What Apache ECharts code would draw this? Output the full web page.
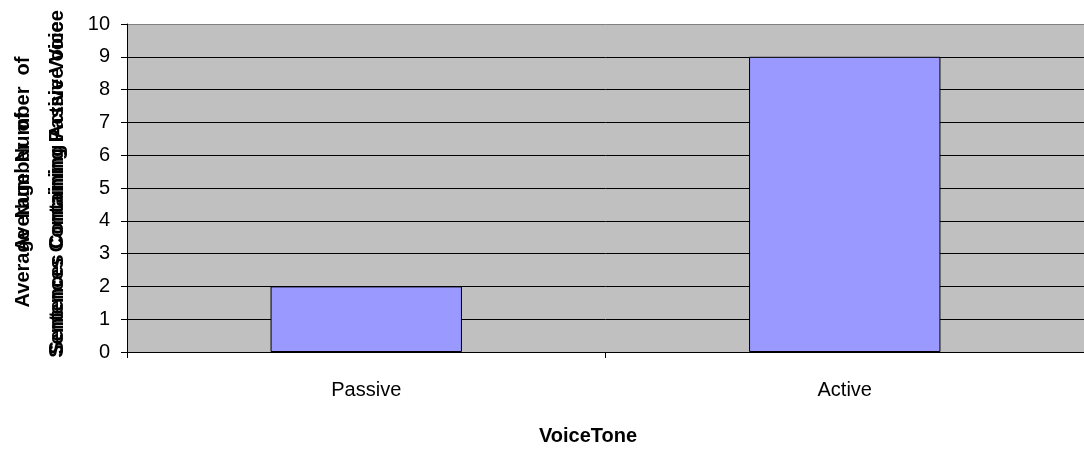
<!DOCTYPE html>
<html>
<head>
<meta charset="utf-8">
<style>
  html, body { margin: 0; padding: 0; background: #fff; }
  #chart { width: 1084px; height: 453px; }
</style>
<script src="https://cdn.jsdelivr.net/npm/echarts@6/dist/echarts.min.js"></script>
</head>
<body>
<div id="chart"></div>
<script>
// data
const categories = ['Passive', 'Active'];
const sentenceCounts = [2, 9];
const yTicks = [0, 1, 2, 3, 4, 5, 6, 7, 8, 9, 10];

const FONT = '"Liberation Sans", Arial, sans-serif';

const chart = echarts.init(document.getElementById('chart'));

// gridline colours: top border is grey, the rest black
const splitColors = yTicks.map((t, i) => (i === yTicks.length - 1 ? '#808080' : '#000'));

// the y title in the reference is two labels printed on top of each other
function titlePiece(text, x, y) {
    return {
        type: 'text',
        x: x,
        y: y,
        rotation: Math.PI / 2,
        style: {
            text: text,
            fontSize: 20,
            fontWeight: 'bold',
            fontFamily: FONT,
            fill: '#000',
            align: 'center',
            verticalAlign: 'middle'
        }
    };
}

const option = {
    animation: false,
    grid: {
        left: 127,
        top: 24,
        width: 958,
        bottom: 101,
        show: true,
        backgroundColor: '#c0c0c0',
        borderWidth: 0
    },
    xAxis: {
        type: 'category',
        data: categories,
        axisLine: { lineStyle: { color: '#000', width: 1 } },
        axisTick: { show: true, length: 6, lineStyle: { color: '#000' } },
        axisLabel: {
            color: '#000',
            fontSize: 20,
            fontFamily: FONT,
            margin: 28
        }
    },
    yAxis: {
        type: 'value',
        min: 0,
        max: 10,
        interval: 1,
        axisLine: { show: true, lineStyle: { color: '#000', width: 1 } },
        axisTick: { show: true, length: 6, lineStyle: { color: '#000' } },
        axisLabel: {
            color: '#000',
            fontSize: 20,
            fontFamily: FONT,
            margin: 17
        },
        splitLine: {
            show: true,
            lineStyle: { color: splitColors, width: 1 }
        }
    },
    series: [{
        type: 'bar',
        data: sentenceCounts,
        barWidth: '40%',
        itemStyle: {
            color: '#9999ff',
            borderColor: '#000',
            borderWidth: 1
        }
    }],
    graphic: [
        {
            type: 'text',
            x: 588,
            y: 436,
            style: {
                text: 'VoiceTone',
                fontSize: 20,
                fontWeight: 'bold',
                fontFamily: FONT,
                fill: '#000',
                align: 'center',
                verticalAlign: 'middle'
            }
        },
        titlePiece('Average  Number  of', 23, 210),
        titlePiece('Average  Number  of', 23, 154),
        titlePiece('Sentences Containing Active Voice', 57, 188),
        titlePiece('Sentences Containing Passive Voice', 57, 184)
    ]
};

chart.setOption(option);
</script>
</body>
</html>
